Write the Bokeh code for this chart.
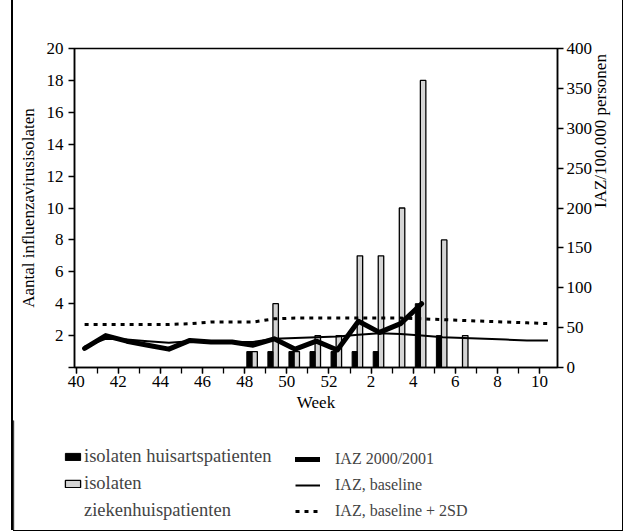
import math
from bokeh.plotting import figure
from bokeh.layouts import column, row
from bokeh.models import Range1d, LinearAxis, FixedTicker, Legend, LegendItem, Div
from bokeh.embed import file_html
from bokeh.resources import INLINE

# ---- data ----
weeks = ["40", "41", "42", "43", "44", "45", "46", "47", "48", "49", "50", "51", "52",
         "1", "2", "3", "4", "5", "6", "7", "8", "9", "10"]
tick_weeks = ["40", "42", "44", "46", "48", "50", "52", "2", "4", "6", "8", "10"]
# isolates (left axis)
huisarts =   [0, 0, 0, 0, 0, 0, 0, 0, 1, 1, 1, 1, 1, 1, 1, 0, 4, 2, 0, 0, 0, 0, 0]
ziekenhuis = [0, 0, 0, 0, 0, 0, 0, 0, 1, 4, 1, 2, 2, 7, 7, 10, 18, 8, 2, 0, 0, 0, 0]
# IAZ per 100.000 (right axis)
iaz_2000 = [24, 40, 33, 28, 23, 34, 32, 32, 28, 36, 23, 33, 22, 58, 44, 55, 80]
iaz_base = [26, 36, 35, 33, 31, 33, 33, 32, 32, 36, 37, 38, 39, 41, 43, 42, 40,
            38, 37, 36, 35, 34, 34]
iaz_2sd = [54, 54, 54, 54, 54, 55, 57, 57, 57, 61, 62, 62, 62, 62, 62, 62, 61,
           60, 59, 58, 57, 56, 55]
left_ticks = [0, 2, 4, 6, 8, 10, 12, 14, 16, 18, 20]
right_ticks = [0, 50, 100, 150, 200, 250, 300, 350, 400]

idx = {w: i for i, w in enumerate(weeks)}
xs = list(range(len(weeks)))

FONT = "Liberation Serif"
W = 609

p = figure(width=W, height=420, output_backend="svg", toolbar_location=None,
           x_range=Range1d(-0.08, 22.85), y_range=Range1d(0, 20),
           min_border_left=61, min_border_right=64, min_border_top=48,
           min_border_bottom=53, background_fill_color="white",
           border_fill_color=None)
p.extra_y_ranges = {"iaz": Range1d(0, 400)}
p.xgrid.visible = False
p.ygrid.visible = False
p.outline_line_color = "black"
p.outline_line_width = 1.5

# bars
BAR_G = dict(fill_color="#d4d4d4", line_color="black", line_width=1.3)
BAR_B = dict(fill_color="black", line_color="black", line_width=1)
bx = [x + 0.22 for x, v in zip(xs, huisarts) if v > 0]
bv = [v for v in huisarts if v > 0]
gx = [x + 0.47 for x, v in zip(xs, ziekenhuis) if v > 0]
gv = [v for v in ziekenhuis if v > 0]
p.vbar(x=gx, top=gv, bottom=0, width=0.26, **BAR_G)
p.vbar(x=bx, top=bv, bottom=0, width=0.24, **BAR_B)

# lines
L_BASE = dict(line_color="black", line_width=2)
L_2SD = dict(line_color="black", line_width=3, line_dash="4 5")
L_2000 = dict(line_color="black", line_width=5, line_join="round", line_cap="round")
lx_all = [x + 0.4 for x in xs]
p.line(lx_all, iaz_base, y_range_name="iaz", **L_BASE)
p.line(lx_all, iaz_2sd, y_range_name="iaz", **L_2SD)
p.line(lx_all[:len(iaz_2000)], iaz_2000, y_range_name="iaz", **L_2000)

# axes
xa = p.xaxis[0]
xa.ticker = FixedTicker(ticks=[idx[w] for w in tick_weeks], minor_ticks=xs)
xa.major_label_overrides = {idx[w]: w for w in tick_weeks}
xa.axis_label = "Week"
ya = p.yaxis[0]
ya.ticker = FixedTicker(ticks=left_ticks)
ya.major_label_overrides = {0: ""}
ya.axis_label = "Aantal influenzavirusisolaten"
ra = LinearAxis(y_range_name="iaz", ticker=FixedTicker(ticks=right_ticks),
                axis_label="IAZ/100.000 personen")
p.add_layout(ra, "right")
try:
    ra.axis_label_orientation = math.pi / 2
except Exception:
    pass

for ax in (xa, ya, ra):
    ax.axis_line_width = 1.5
    ax.axis_line_color = "black"
    ax.major_tick_in = 0
    ax.major_tick_out = 6
    ax.minor_tick_in = 0
    ax.minor_tick_out = 6
    ax.major_tick_line_width = 1.3
    ax.minor_tick_line_width = 1.3
    ax.major_label_text_font = FONT
    ax.major_label_text_font_size = "17px"
    ax.major_label_text_color = "black"
    ax.axis_label_text_font = FONT
    ax.axis_label_text_font_size = "17px"
    ax.axis_label_text_font_style = "normal"
    ax.axis_label_text_color = "black"
xa.major_label_standoff = 2
xa.axis_label_standoff = 3
ya.minor_tick_out = 0
ra.minor_tick_out = 0
ya.major_label_standoff = 5
ya.axis_label_standoff = 6
ra.major_label_standoff = 3
ra.axis_label_standoff = 5

# ---- legend panel (separate figure below the chart) ----
lg = figure(width=W, height=110, output_backend="svg", toolbar_location=None,
            x_range=Range1d(0, 1), y_range=Range1d(0, 1),
            min_border=0, background_fill_color=None, border_fill_color=None)
lg.xaxis.visible = False
lg.yaxis.visible = False
lg.grid.visible = False
lg.outline_line_color = None
for fig in (p, lg):
    try:
        fig.frame_align = False
    except Exception:
        pass
kb = lg.vbar(x=[-5], top=[1], width=0.1, **BAR_B)
kg = lg.vbar(x=[-5], top=[1], width=0.1, **BAR_G)
kd = lg.scatter(x=[-5], y=[-5], alpha=0)
k2000 = lg.line(x=[-5, -4], y=[-5, -4], **L_2000)
kbase = lg.line(x=[-5, -4], y=[-5, -4], **L_BASE)
k2sd = lg.line(x=[-5, -4], y=[-5, -4], **L_2SD)

common = dict(padding=0, margin=0, border_line_alpha=0, background_fill_alpha=0,
              label_text_font=FONT, label_height=20, spacing=6)
leg1 = Legend(items=[LegendItem(label="isolaten huisartspatienten", renderers=[kb]),
                     LegendItem(label="isolaten", renderers=[kg]),
                     LegendItem(label="ziekenhuispatienten", renderers=[kd])],
              location=(50, 9), glyph_width=19, glyph_height=9, label_standoff=2,
              label_text_font_size="18.5px", **common)
leg2 = Legend(items=[LegendItem(label="IAZ 2000/2001", renderers=[k2000]),
                     LegendItem(label="IAZ, baseline", renderers=[kbase]),
                     LegendItem(label="IAZ, baseline + 2SD", renderers=[k2sd])],
              location=(282, 9), glyph_width=25, glyph_height=20, label_standoff=15,
              label_text_font_size="16px", **common)
lg.add_layout(leg1)
lg.add_layout(leg2)

edge = Div(text="", width=2, height=530, margin=0,
           styles={"background-color": "black"})
col = column(p, lg, spacing=0, margin=0)
col.styles = {"border-right": "1.5px solid black",
              "border-bottom": "1.5px solid black"}
layout = row(edge, col, spacing=0, margin=(0, 0, 0, 11))

open("out.html", "w").write(file_html(layout, INLINE))
